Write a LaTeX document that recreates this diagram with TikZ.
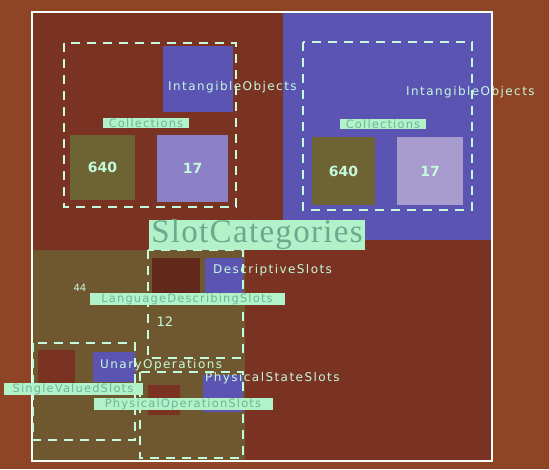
\documentclass[tikz,border=0pt]{standalone}
\usepackage{fontspec}
\setsansfont{DejaVu Sans}
\newfontfamily\slotserif{Liberation Serif}
\usepackage{tikz}
\usetikzlibrary{positioning}
\definecolor{wallbrown}{HTML}{8F4426}
\definecolor{deepbrown}{HTML}{7A3222}
\definecolor{slotblue}{HTML}{5B54B3}
\definecolor{olivetile}{HTML}{6E6333}
\definecolor{olivearea}{HTML}{6F5830}
\definecolor{lavtile}{HTML}{8C80C6}
\definecolor{lavlight}{HTML}{A89CCF}
\definecolor{mint}{HTML}{C4FBDD}
\definecolor{mintbg}{HTML}{B2F2C8}
\definecolor{minttext}{HTML}{7FC7A8}

\begin{document}
\begin{tikzpicture}[x=1pt,y=-1pt,
    every node/.style={font=\sffamily\fontsize{12}{14}\selectfont\addfontfeature{LetterSpace=12}},
    tile/.style={anchor=north west,inner sep=0pt,outer sep=0pt},
    dashbox/.style={draw=mint,line width=2.2pt,dash pattern=on 9pt off 7pt},
    tag/.style={text=mint,inner sep=0pt,anchor=west},
    badge/.style={fill=mintbg,text=minttext!90!black,inner xsep=1pt,inner ysep=0.5pt,anchor=center,
      font=\sffamily\fontsize{11.5}{12}\selectfont\addfontfeature{LetterSpace=10}},
    count/.style={text=mint,font=\sffamily\bfseries\fontsize{14}{16}\selectfont}]
        \useasboundingbox (0,0) rectangle (549,469);
        \fill[wallbrown] (0,0) rectangle (549,469);
        % frame and big areas
        \fill[deepbrown] (32,12) rectangle (492,461);
        \fill[slotblue] (283,12) rectangle (492,240);
        \fill[olivearea] (32,250) rectangle (245,461);
        \draw[white!85!mint,line width=2pt] (32,12) rectangle (492,461);
        % left collections
        \node[tile,fill=slotblue,minimum width=70pt,minimum height=66pt] (blueL) at (163,46) {};
        \node[tile,fill=olivetile,minimum width=65pt,minimum height=65pt] (oliveL) at (70,135) {};
        \node[tile,fill=lavtile,minimum width=71pt,minimum height=67pt] (lavL) at (157,135) {};
        \node[count] at (oliveL.center) {640};
        \node[count] at (lavL.center) {17};
        \draw[dashbox] (64,43) rectangle (236,207);
        \node[tag] (intL) at (168,87) {IntangibleObjects};
        \node[badge,minimum width=86pt] (collL) at (146,123) {Collections};
        % right collections
        \node[tile,fill=olivetile,minimum width=63pt,minimum height=68pt] (oliveR) at (312,137) {};
        \node[tile,fill=lavlight,minimum width=66pt,minimum height=68pt] (lavR) at (397,137) {};
        \node[count] at (oliveR.center) {640};
        \node[count] at (lavR.center) {17};
        \draw[dashbox] (303,42) rectangle (472,210);
        \node[tag] (intR) at (406,92) {IntangibleObjects};
        \node[badge,minimum width=86pt] (collR) at (383,124) {Collections};
        % slot categories
        \node[tile,fill=deepbrown!80!black,minimum width=48pt,minimum height=35pt] (brownD) at (152,258) {};
        \node[tile,fill=slotblue,minimum width=38pt,minimum height=35pt] (blueD) at (205,258) {};
        \draw[dashbox] (148,250) rectangle (243,358);
        \node[tag] (descr) at (213,270) {DescriptiveSlots};
        \node[count,font=\sffamily\fontsize{10}{11}\selectfont] (n44) at (80,288) {44};
        \node[badge,minimum width=195pt] (lang) at (187,299) {LanguageDescribingSlots};
        \node[count,font=\sffamily\fontsize{13}{14}\selectfont] (n12) at (165,322) {12};
        % single valued
        \node[tile,fill=deepbrown,minimum width=37pt,minimum height=35pt] (brownS) at (38,350) {};
        \node[tile,fill=slotblue,minimum width=42pt,minimum height=30pt] (blueS) at (93,352) {};
        \draw[dashbox] (33,343) rectangle (135,440);
        \node[tag] (unary) at (100,365) {UnaryOperations};
        % physical
        \node[tile,fill=deepbrown,minimum width=32pt,minimum height=30pt] (brownP) at (148,385) {};
        \node[tile,fill=slotblue,minimum width=40pt,minimum height=37pt] (blueP) at (203,375) {};
        \draw[dashbox] (140,372) rectangle (243,458);
        \node[tag] (phys) at (205,378) {PhysicalStateSlots};
        \node[badge,minimum width=139pt] (single) at (73,389) {SingleValuedSlots};
        \node[badge,minimum width=179pt] (physop) at (183,404) {PhysicalOperationSlots};
        \node[badge,font=\slotserif\fontsize{33}{33}\selectfont\addfontfeature{LetterSpace=4},text=minttext!85!black,inner xsep=2pt,inner ysep=0pt,minimum width=216pt,minimum height=29pt] (slotcat) at (257,235) {SlotCategories};
      \end{tikzpicture}
\end{document}
